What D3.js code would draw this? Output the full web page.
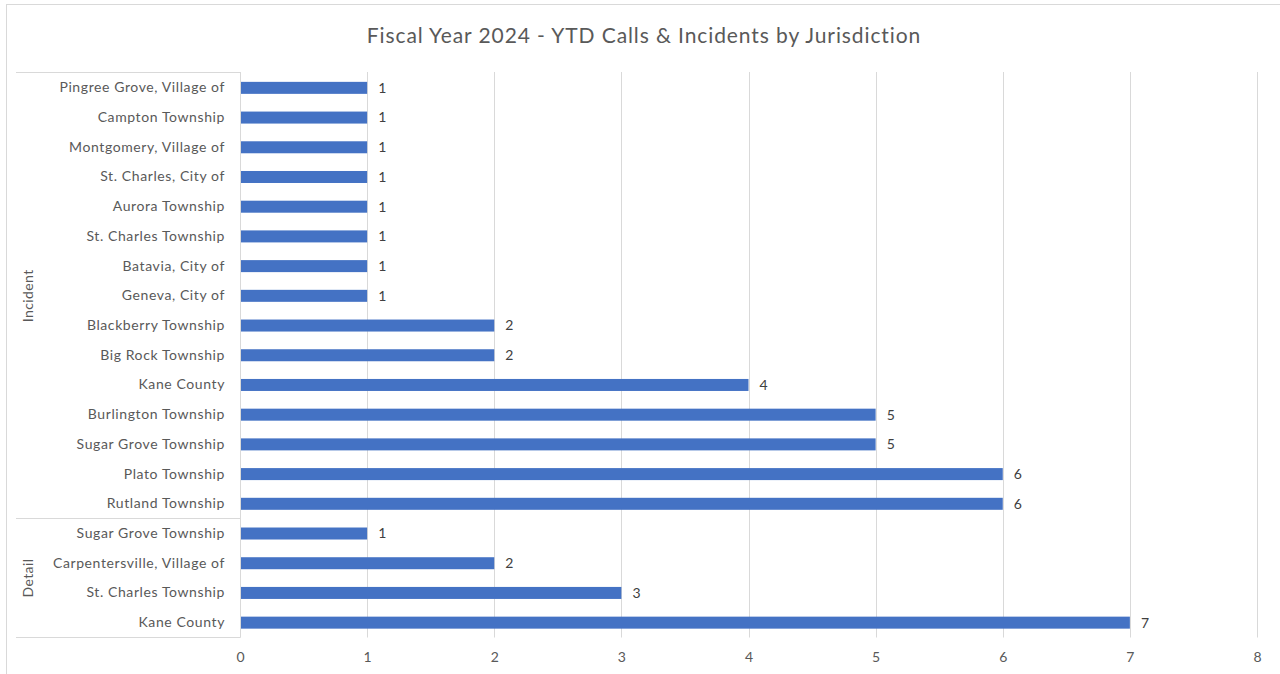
<!DOCTYPE html>
<html><head><meta charset="utf-8">
<script src="https://cdn.jsdelivr.net/npm/d3@7"></script>
<style>body{margin:0;background:#fff;}svg{display:block;}</style>
</head><body>
<svg id="c" width="1280" height="674"></svg>
<script>
const title = "Fiscal Year 2024 - YTD Calls & Incidents by Jurisdiction";
const groups = ["Incident", "Detail"];
const incidentNames = ["Pingree Grove, Village of","Campton Township","Montgomery, Village of","St. Charles, City of","Aurora Township","St. Charles Township","Batavia, City of","Geneva, City of","Blackberry Township","Big Rock Township","Kane County","Burlington Township","Sugar Grove Township","Plato Township","Rutland Township"];
const incidentValues = [1,1,1,1,1,1,1,1,2,2,4,5,5,6,6];
const detailNames = ["Sugar Grove Township","Carpentersville, Village of","St. Charles Township","Kane County"];
const detailValues = [1,2,3,7];
const xTicks = [0,1,2,3,4,5,6,7,8];

const rows = [];
incidentNames.forEach((n,i)=>rows.push({group:"Incident",name:n,value:incidentValues[i],key:"Incident|"+n}));
detailNames.forEach((n,i)=>rows.push({group:"Detail",name:n,value:detailValues[i],key:"Detail|"+n}));

const svg = d3.select("#c");
const font = "Lato, 'Liberation Sans', sans-serif";
const pLeft = 240, pRight = 1257, pTop = 73, pBottom = 637.5;

// chart border
svg.append("rect").attr("x",6.5).attr("y",4.5).attr("width",1300).attr("height",700)
  .attr("fill","none").attr("stroke","#d9d9d9").attr("stroke-width",1);

const x = d3.scaleLinear().domain([0,8]).range([pLeft,pRight]);
const y = d3.scaleBand().domain(rows.map(d=>d.key)).range([pTop,pBottom]).paddingInner(0.6).paddingOuter(0.3);

// gridlines
svg.append("g").selectAll("line").data(xTicks).join("line")
  .attr("x1",d=>Math.round(x(d))+0.5).attr("x2",d=>Math.round(x(d))+0.5)
  .attr("y1",pTop-1).attr("y2",pBottom)
  .attr("stroke","#d9d9d9").attr("stroke-width",1);

// x axis labels
const xa = svg.append("g").attr("transform",`translate(0,${pBottom-1})`)
  .call(d3.axisBottom(x).tickValues(xTicks).tickSize(0).tickPadding(16).tickFormat(d3.format("d")));
xa.select(".domain").remove();
xa.selectAll("text").attr("fill","#595959").style("font-family",font).style("font-size","14px");

// bars
svg.append("g").selectAll("rect").data(rows).join("rect")
  .attr("x",x(0)).attr("y",d=>y(d.key)+y.bandwidth()/2-6)
  .attr("width",d=>x(d.value)-x(0)).attr("height",12)
  .attr("fill","#4472C4");

// value labels
svg.append("g").selectAll("text").data(rows).join("text")
  .attr("x",d=>x(d.value)+11).attr("y",d=>y(d.key)+y.bandwidth()/2)
  .attr("dy","0.35em").attr("fill","#404040")
  .style("font-family",font).style("font-size","14px").text(d=>d.value);

// category axis
const step = y.step();
const ya = svg.append("g").attr("transform",`translate(${pLeft},0)`)
  .call(d3.axisLeft(y).tickSize(0).tickPadding(15).tickFormat(k=>k.split("|")[1]));
ya.select(".domain").remove();
ya.selectAll("text").attr("fill","#595959").style("font-family",font).style("font-size","14px")
  .style("letter-spacing","0.6px");

// axis line
svg.append("line").attr("x1",pLeft+0.5).attr("x2",pLeft+0.5).attr("y1",pTop-1).attr("y2",pBottom)
  .attr("stroke","#d9d9d9");

// group boxes
const gInfo = groups.map(g=>{
  const ks = rows.filter(r=>r.group===g).map(r=>r.key);
  const y0 = y(ks[0]) - (step - y.bandwidth())/2;
  const y1 = y(ks[ks.length-1]) + y.bandwidth() + (step - y.bandwidth())/2;
  return {g,y0,y1};
});
const lineYs = [gInfo[0].y0 - 1, gInfo[0].y1 - 1, gInfo[1].y1 - 1];
svg.append("g").selectAll("line").data(lineYs).join("line")
  .attr("x1",16).attr("x2",pLeft).attr("y1",d=>Math.round(d)+0.5).attr("y2",d=>Math.round(d)+0.5)
  .attr("stroke","#d9d9d9").attr("stroke-width",1);
svg.append("g").selectAll("text").data(gInfo).join("text")
  .attr("transform",d=>`translate(28,${(d.y0+d.y1)/2}) rotate(-90)`)
  .attr("text-anchor","middle").attr("dy","0.35em").attr("fill","#595959")
  .style("font-family",font).style("font-size","14px").style("letter-spacing","0.4px").text(d=>d.g);

// title
svg.append("text").attr("x",644).attr("y",36).attr("text-anchor","middle").attr("dy","0.35em")
  .attr("fill","#595959").style("font-family",font).style("font-size","21px")
  .style("letter-spacing","0.9px").text(title);
</script>
</body></html>
